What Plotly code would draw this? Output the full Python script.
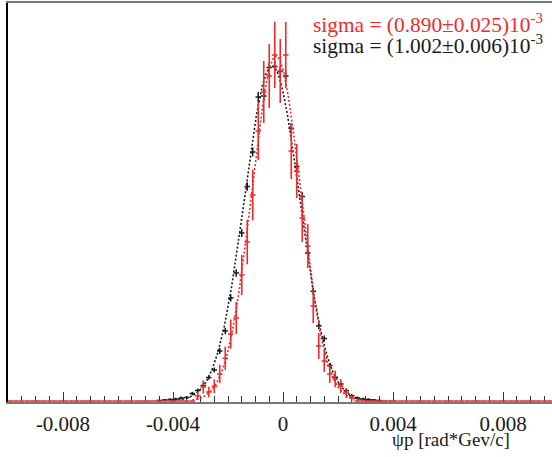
import numpy as np
import plotly.graph_objects as go

# ---------------- data ----------------
bin_lo = -0.01
bin_width = 0.0002
n_bins = 100

# black histogram (nonzero bins from -0.0045 to 0.0035)
black_counts = [0]*27 + [
    0.5, 1, 1.5, 2, 3, 3.5, 7.5, 10.5, 15.5, 23.5,
    31, 50, 70, 103, 128, 168, 214.5, 249, 304, 305,
    333.5, 334.5, 329.5, 325, 272.5, 234.5, 204.5, 148, 109.7, 75,
    62.5, 35.5, 23.7, 17, 10.3, 5.3, 3, 2, 1.5, 1,
    0.5] + [0]*32
black_errors = [0]*27 + [
    1, 1, 1.2, 1.3, 1.5, 1.5, 1.8, 2, 2, 2.3,
    2.5, 3, 3.2, 3.5, 3.8, 4, 4.3, 4.5, 5, 5,
    5, 5, 5, 5, 4.7, 4.4, 4.2, 3.9, 3.6, 3.2,
    3, 2.6, 2.3, 2.1, 2, 1.7, 1.5, 1.3, 1.2, 1,
    1] + [0]*32

# red histogram (nonzero bins from -0.0031 to 0.0025)
red_counts = [0]*34 + [
    5, 14, 9, 14.7, 27, 42.7, 67, 83, 126, 159,
    206, 270, 309, 325, 346, 330, 346, 250, 230, 183,
    155, 95, 55, 40, 27, 22, 15, 8, 3] + [0]*37
red_errors = [0]*34 + [
    4, 6.6, 5.3, 6.8, 9.2, 11.6, 14.5, 16, 20, 22.3,
    25.4, 29, 31, 32, 33, 32, 33, 28, 27, 24,
    22, 17, 13, 11, 9, 8.3, 6.9, 5, 3] + [0]*37

# gaussian fit parameters (amplitude, mean, sigma, fit range)
black_fit = dict(amp=335, mean=-0.0004, sigma=1.002e-3, lo=-0.0041, hi=0.0035)
red_fit = dict(amp=345, mean=-0.00025, sigma=0.890e-3, lo=-0.0033, hi=0.0041)

tick_vals = [-0.008, -0.004, 0, 0.004, 0.008]
tick_text = ["-0.008", "-0.004", "0", "0.004", "0.008"]

red_label = "sigma = (0.890±0.025)10<sup>-3</sup>"
black_label = "sigma = (1.002±0.006)10<sup>-3</sup>"
x_title = "ψp [rad*Gev/c]"

RED = "#ee2a2a"
BLACK = "#1a1a1a"
FONT = "Liberation Serif, Times New Roman, DejaVu Serif, serif"

# ---------------- figure ----------------
centers = bin_lo + bin_width * (np.arange(n_bins) + 0.5)
half = [bin_width / 2] * n_bins

fig = go.Figure()

def fit_curve(p):
    xs = np.linspace(p["lo"], p["hi"], 400)
    ys = p["amp"] * np.exp(-0.5 * ((xs - p["mean"]) / p["sigma"]) ** 2)
    return xs, ys

# black histogram
bmask = [c > 0 for c in black_counts]
bx = [c for c, m in zip(centers, bmask) if m]
by = [v for v, m in zip(black_counts, bmask) if m]
be = [v for v, m in zip(black_errors, bmask) if m]
fig.add_trace(go.Scatter(
    x=bx, y=by, mode="markers",
    marker=dict(size=1, color=BLACK),
    error_y=dict(type="data", array=be, color=BLACK, thickness=1.5, width=0),
    error_x=dict(type="data", array=[bin_width/2]*len(bx), color=BLACK, thickness=1.5, width=0),
    cliponaxis=False, showlegend=False))

xs, ys = fit_curve(black_fit)
fig.add_trace(go.Scatter(x=xs, y=ys, mode="lines",
                         line=dict(color=BLACK, width=1.6, dash="2px,2px"),
                         showlegend=False))

# red histogram
fig.add_trace(go.Scatter(
    x=centers, y=red_counts, mode="markers",
    marker=dict(size=1, color=RED),
    error_y=dict(type="data", array=red_errors, color=RED, thickness=1.6, width=0),
    error_x=dict(type="data", array=half, color=RED, thickness=1.5, width=0),
    cliponaxis=False, showlegend=False))

xs, ys = fit_curve(red_fit)
fig.add_trace(go.Scatter(x=xs, y=ys, mode="lines",
                         line=dict(color=RED, width=1.6, dash="2px,2px"),
                         showlegend=False))

# annotations
fig.add_annotation(text=red_label, xref="paper", yref="paper", x=0.987, y=0.948,
                   xanchor="right", yanchor="middle", showarrow=False,
                   font=dict(family=FONT, size=21.4, color=RED))
fig.add_annotation(text=black_label, xref="paper", yref="paper", x=0.987, y=0.895,
                   xanchor="right", yanchor="middle", showarrow=False,
                   font=dict(family=FONT, size=21.4, color=BLACK))
fig.add_annotation(text=x_title, xref="paper", yref="paper", x=0.9265, y=-0.095,
                   xanchor="right", yanchor="middle", showarrow=False,
                   font=dict(family=FONT, size=19, color=BLACK))

plot_w = 552 - 8
x_hi = bin_lo + plot_w / 27500.0

fig.update_layout(
    width=552, height=457,
    margin=dict(l=8, r=0, t=3, b=55, autoexpand=False),
    paper_bgcolor="white", plot_bgcolor="white",
    font=dict(family=FONT, size=21, color=BLACK),
    xaxis=dict(range=[bin_lo, x_hi], showgrid=False, zeroline=False, automargin=False,
               showline=True, linecolor="#777777", linewidth=1.5, mirror=True,
               ticks="inside", ticklen=10, tickwidth=1, tickcolor="#333333",
               tickmode="array", tickvals=tick_vals, ticktext=tick_text,
               tickfont=dict(family=FONT, size=21, color=BLACK),
               ticklabelstandoff=2,
               minor=dict(tickmode="linear", tick0=0, dtick=0.0005,
                          ticks="inside", ticklen=6, tickcolor="#333333", tickwidth=1),
               layer="below traces"),
    yaxis=dict(range=[-1, 398], showgrid=False, zeroline=False, automargin=False,
               showline=True, linecolor="black", linewidth=1.5,
               showticklabels=False, ticks=""),
)

fig.write_html("out.html", config={"displayModeBar": False},
               post_script="document.body.style.margin='0';document.body.style.overflow='hidden';")
